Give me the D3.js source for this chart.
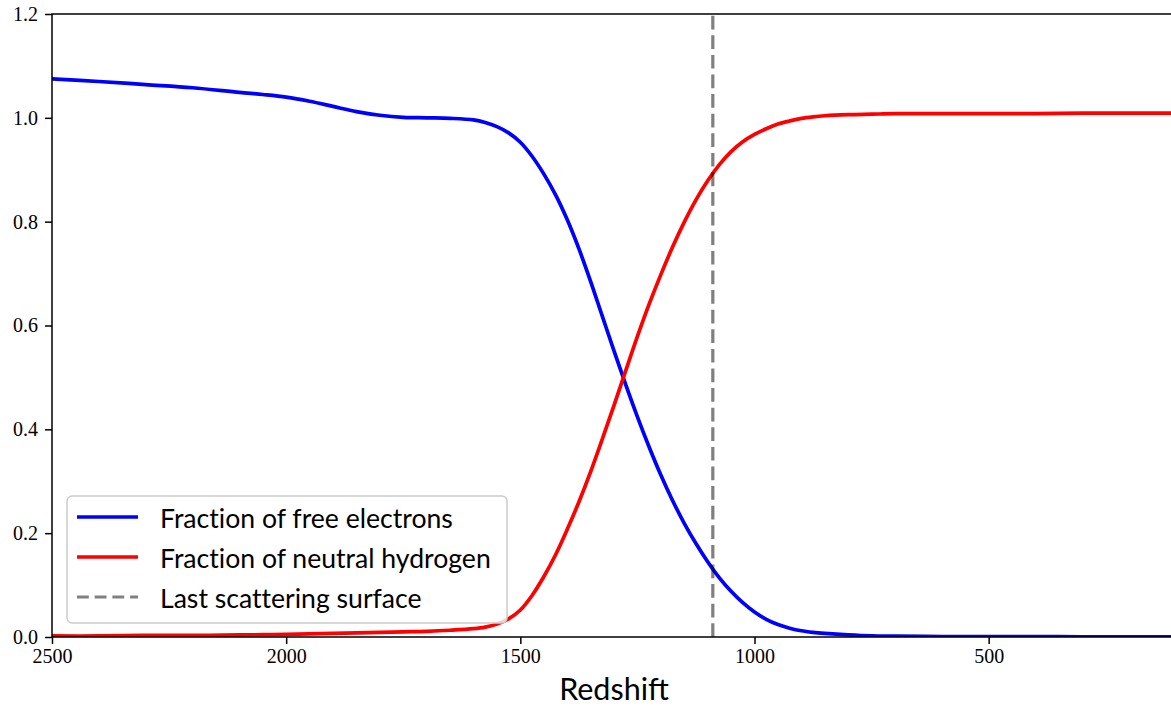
<!DOCTYPE html>
<html>
<head>
<meta charset="utf-8">
<script src="https://cdn.jsdelivr.net/npm/d3@7"></script>
<style>
  body { margin: 0; background: #fff; }
  svg { display: block; }
  .tick text { font-family: "Liberation Serif", "DejaVu Serif", serif; font-size: 20px; fill: #000; }
  .legend text { font-family: Lato, "DejaVu Sans", sans-serif; font-size: 26.6px; fill: #000; font-variant-ligatures: none; }
</style>
</head>
<body>
<div id="chart"></div>
<script>
// redshift samples (descending, the x axis is reversed)
const redshift = [2500, 2400, 2300, 2200, 2100, 2050, 2000, 1950, 1900, 1850, 1800, 1750, 1700, 1650, 1600,
    1575, 1550, 1525, 1500, 1475, 1450, 1425, 1400, 1375, 1350, 1325, 1300, 1275, 1250, 1225, 1200,
    1175, 1150, 1125, 1100, 1075, 1050, 1025, 1000, 975, 950, 925, 900, 875, 850, 800, 750, 700,
    600, 500, 400, 300, 200, 100];

// fraction of free electrons
const freeElectrons = [1.075, 1.070, 1.064, 1.058, 1.049, 1.045, 1.040, 1.032, 1.022, 1.012, 1.005, 1.001, 1.000, 0.999, 0.996,
    0.991, 0.983, 0.971, 0.953, 0.926, 0.892, 0.852, 0.804, 0.748, 0.685, 0.618, 0.551, 0.486, 0.424, 0.366, 0.312,
    0.263, 0.219, 0.180, 0.145, 0.114, 0.088, 0.066, 0.048, 0.034, 0.024, 0.017, 0.012, 0.009, 0.007, 0.004, 0.002, 0.0015,
    0.001, 0.0008, 0.0006, 0.0005, 0.0004, 0.0003];

// fraction of neutral hydrogen
const neutralHydrogen = [0.002, 0.002, 0.003, 0.003, 0.004, 0.0045, 0.005, 0.006, 0.007, 0.008, 0.009, 0.010, 0.011, 0.013, 0.016,
    0.019, 0.025, 0.035, 0.052, 0.080, 0.116, 0.158, 0.207, 0.260, 0.318, 0.381, 0.446, 0.513, 0.579, 0.641, 0.698,
    0.751, 0.799, 0.842, 0.879, 0.910, 0.935, 0.954, 0.968, 0.979, 0.988, 0.994, 0.999, 1.002, 1.004, 1.006, 1.007, 1.008,
    1.008, 1.008, 1.008, 1.009, 1.009, 1.009];

const lastScattering = 1089;

const xTicks = [2500, 2000, 1500, 1000, 500];
const yTicks = [0.0, 0.2, 0.4, 0.6, 0.8, 1.0, 1.2];

const legendLabels = ["Fraction of free electrons", "Fraction of neutral hydrogen", "Last scattering surface"];

class Chart {

    constructor() {
        this.width = 1171;
        this.height = 707;
        this.left = 52;
        this.right = 1176;   // right spine sits just outside the window
        this.top = 14;
        this.bottom = 637;

        this.x = d3.scaleLinear().domain([2500, 100]).range([this.left, this.right]);
        this.y = d3.scaleLinear().domain([0, 1.2]).range([this.bottom, this.top]);

        this.svg = d3.select("#chart")
            .append("svg")
            .attr("width", this.width)
            .attr("height", this.height);

        this.svg.append("clipPath")
            .attr("id", "plot_clip")
            .append("rect")
            .attr("x", this.left)
            .attr("y", this.top)
            .attr("width", this.right - this.left)
            .attr("height", this.bottom - this.top);

        this.drawLines();
        this.drawAxes();
        this.drawLegend();
    }

    drawLines() {
        let plot = this.svg.append("g").attr("clip-path", "url(#plot_clip)");

        let line = d3.line()
            .x((d, i) => this.x(redshift[i]))
            .y(d => this.y(d))
            .curve(d3.curveCatmullRom.alpha(0.5));

        //free electrons
        plot.append("path")
            .datum(freeElectrons)
            .attr("d", line)
            .attr("fill", "none")
            .attr("stroke", "#0000ff")
            .attr("stroke-width", 3.7);

        //neutral hydrogen
        plot.append("path")
            .datum(neutralHydrogen)
            .attr("d", line)
            .attr("fill", "none")
            .attr("stroke", "#ff0000")
            .attr("stroke-width", 3.7);

        //last scattering surface
        plot.append("line")
            .attr("x1", this.x(lastScattering))
            .attr("x2", this.x(lastScattering))
            .attr("y1", this.y(0))
            .attr("y2", this.y(1.2))
            .attr("stroke", "#000")
            .attr("stroke-opacity", 0.5)
            .attr("stroke-width", 3.2)
            .attr("stroke-dasharray", "13.7,5.9");
    }

    drawAxes() {
        let xAxis = d3.axisBottom(this.x)
            .tickValues(xTicks)
            .tickFormat(d3.format("d"))
            .tickSize(7)
            .tickPadding(5)
            .tickSizeOuter(0);

        let yAxis = d3.axisLeft(this.y)
            .tickValues(yTicks)
            .tickFormat(d3.format(".1f"))
            .tickSize(7)
            .tickPadding(7)
            .tickSizeOuter(0);

        let gx = this.svg.append("g")
            .attr("transform", "translate(0," + this.bottom + ")")
            .call(xAxis);

        let gy = this.svg.append("g")
            .attr("transform", "translate(" + this.left + ",0)")
            .call(yAxis);

        gx.select(".domain").remove();
        gy.select(".domain").remove();
        gx.selectAll(".tick line").attr("stroke-width", 1.5);
        gy.selectAll(".tick line").attr("stroke-width", 1.5);

        //spines
        this.svg.append("rect")
            .attr("x", this.left)
            .attr("y", this.top)
            .attr("width", this.right - this.left)
            .attr("height", this.bottom - this.top)
            .attr("fill", "none")
            .attr("stroke", "#000")
            .attr("stroke-width", 1.5);

        //x label
        this.svg.append("text")
            .text("Redshift")
            .attr("x", (this.left + this.right) / 2)
            .attr("y", 700)
            .attr("text-anchor", "middle")
            .style("font-family", "Lato, 'DejaVu Sans', sans-serif")
            .style("font-size", "30.5px");
    }

    drawLegend() {
        let legend = this.svg.append("g").attr("class", "legend");

        legend.append("rect")
            .attr("x", 67)
            .attr("y", 496)
            .attr("width", 440)
            .attr("height", 127)
            .attr("rx", 5)
            .attr("fill", "#fff")
            .attr("fill-opacity", 0.8)
            .attr("stroke", "#cccccc")
            .attr("stroke-width", 1.5);

        let colors = ["#0000ff", "#ff0000", "#808080"];
        let rows = [517, 557, 597];

        legendLabels.forEach((label, i) => {
            legend.append("line")
                .attr("x1", 77)
                .attr("x2", 138)
                .attr("y1", rows[i])
                .attr("y2", rows[i])
                .attr("stroke", colors[i])
                .attr("stroke-width", i == 2 ? 3.2 : 3.7)
                .attr("stroke-dasharray", i == 2 ? "11.8,5.9" : null);

            legend.append("text")
                .text(label)
                .attr("x", 160)
                .attr("y", rows[i] + 11);
        });
    }
}

new Chart();
</script>
</body>
</html>
